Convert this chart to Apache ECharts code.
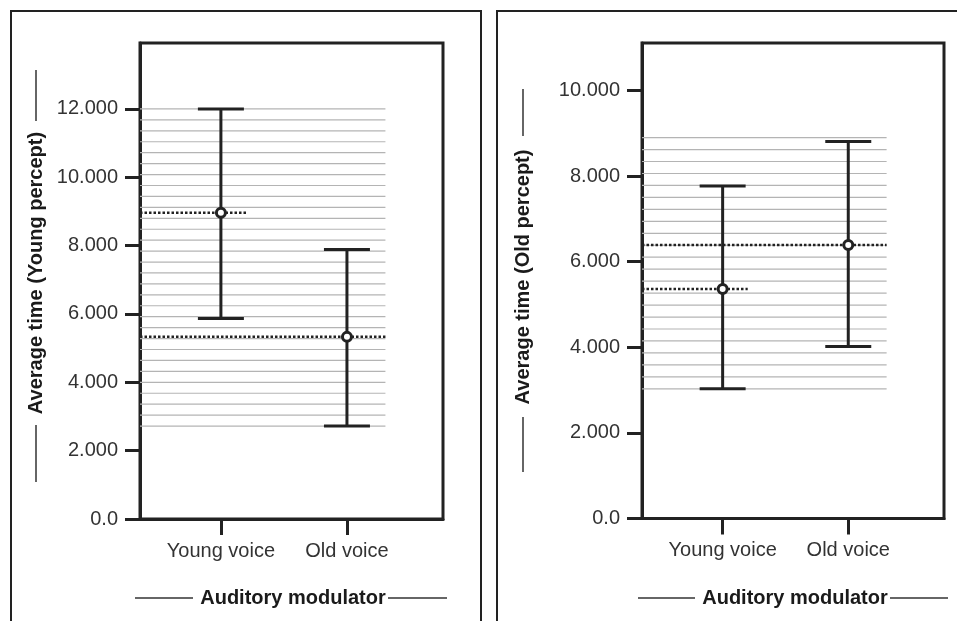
<!DOCTYPE html>
<html style="height: 100%">
<head>
 <meta charset="utf-8">
 <title>ECharts</title>
 <script src="https://cdn.jsdelivr.net/npm/echarts/dist/echarts.min.js"></script>
</head>
<body style="height: 100%; margin: 0; background: #fff">
 <div id="main" style="width: 957px; height: 621px"></div>
 <script type="text/javascript">
 // groups on the x axis and where they sit across the plot (0..1)
 var categories = ['Young voice', 'Old voice'];
 var catPos = [0.267, 0.683];

 // left panel - Average time (Young percept)
 var youngMean = [8.96, 5.33];
 var youngLower = [5.87, 2.72];
 var youngUpper = [12.0, 7.89];
 var youngBand = [2.72, 12.0];   // hatched range
 var yTicksLeft = [0, 2, 4, 6, 8, 10, 12];

 // right panel - Average time (Old percept)
 var oldMean = [5.36, 6.39];
 var oldLower = [3.03, 4.02];
 var oldUpper = [7.77, 8.81];
 var oldBand = [3.03, 8.90];
 var yTicksRight = [0, 2, 4, 6, 8, 10];

 var FONT = 'Liberation Sans';
 var INK = '#222';

 var myChart = echarts.init(document.getElementById('main'));

 function fmtY(v) {
   return v === 0 ? '0.0' : v.toFixed(3);
 }

 function errorBarItem(params, api) {
   var x = api.value(0);
   var pLo = api.coord([x, api.value(1)]);
   var pM = api.coord([x, api.value(2)]);
   var pHi = api.coord([x, api.value(3)]);
   var hw = 23;
   var st = { stroke: INK, lineWidth: 3 };
   return {
     type: 'group',
     children: [
       { type: 'line', shape: { x1: pLo[0], y1: pLo[1], x2: pHi[0], y2: pHi[1] }, style: st },
       { type: 'line', shape: { x1: pLo[0] - hw, y1: pLo[1], x2: pLo[0] + hw, y2: pLo[1] }, style: st },
       { type: 'line', shape: { x1: pHi[0] - hw, y1: pHi[1], x2: pHi[0] + hw, y2: pHi[1] }, style: st },
       { type: 'circle', shape: { cx: pM[0], cy: pM[1], r: 4.5 }, style: { fill: '#fff', stroke: INK, lineWidth: 3 } }
     ]
   };
 }

 // dotted line from the axis to just past the group's bar
 function meanLineItem(params, api) {
   var a = api.coord([0, api.value(1)]);
   var b = api.coord([api.value(2), api.value(1)]);
   return {
     type: 'line',
     shape: { x1: a[0], y1: a[1], x2: b[0], y2: b[1] },
     style: { stroke: '#222', lineWidth: 2.5, lineDash: [2.5, 2] }
   };
 }

 // horizontal hatching over the band
 function hatchItem(params, api) {
   var steps = api.value(4);
   var top = api.coord([api.value(0), api.value(3)]);
   var bot = api.coord([api.value(1), api.value(2)]);
   var kids = [];
   for (var i = 0; i <= steps; i++) {
     var y = top[1] + (bot[1] - top[1]) * i / steps;
     kids.push({ type: 'line', shape: { x1: top[0], y1: y, x2: bot[0], y2: y }, style: { stroke: '#b4b4b4', lineWidth: 1.2 } });
   }
   return { type: 'group', children: kids };
 }

 function bars(mean, lo, hi) {
   return categories.map(function (c, i) { return [catPos[i], lo[i], mean[i], hi[i]]; });
 }

 var meanEnd = [0.35, 0.81];

 function means(mean) {
   return categories.map(function (c, i) { return [catPos[i], mean[i], meanEnd[i]]; });
 }

 function yAxisFor(idx, max, ticks) {
   return {
     type: 'value', gridIndex: idx, min: 0, max: max,
     axisLine: { show: true, lineStyle: { color: INK, width: 3 } },
     axisTick: { show: true, length: 15, customValues: ticks, lineStyle: { color: INK, width: 3 } },
     axisLabel: { customValues: ticks, formatter: fmtY, fontSize: 20, color: '#333', fontFamily: FONT, margin: 22 },
     splitLine: { show: false }
   };
 }

 function xAxisFor(idx) {
   return {
     type: 'value', gridIndex: idx, min: 0, max: 1,
     axisLine: { show: true, lineStyle: { color: INK, width: 3 } },
     axisTick: { show: true, length: 16, customValues: catPos, lineStyle: { color: INK, width: 3 } },
     axisLabel: {
       customValues: catPos, fontSize: 20, color: '#333', fontFamily: FONT, margin: 22,
       formatter: function (v) { return categories[catPos.indexOf(v)]; }
     },
     splitLine: { show: false }
   };
 }

 function vTitle(cx, cy, text, l1, l2) {
   return [
     { type: 'text', x: cx, y: cy, rotation: Math.PI / 2,
       style: { text: text, font: 'bold 20px ' + FONT, fill: '#1a1a1a', align: 'center', verticalAlign: 'middle' } },
     { type: 'line', shape: { x1: cx, y1: l1[0], x2: cx, y2: l1[1] }, style: { stroke: '#333', lineWidth: 1.5 } },
     { type: 'line', shape: { x1: cx, y1: l2[0], x2: cx, y2: l2[1] }, style: { stroke: '#333', lineWidth: 1.5 } }
   ];
 }

 function hTitle(cx, cy, text, l1, l2) {
   return [
     { type: 'text', x: cx, y: cy,
       style: { text: text, font: 'bold 20px ' + FONT, fill: '#1a1a1a', align: 'center', verticalAlign: 'middle' } },
     { type: 'line', shape: { x1: l1[0], y1: cy, x2: l1[1], y2: cy }, style: { stroke: '#333', lineWidth: 1.5 } },
     { type: 'line', shape: { x1: l2[0], y1: cy, x2: l2[1], y2: cy }, style: { stroke: '#333', lineWidth: 1.5 } }
   ];
 }

 var option = {
   animation: false,
   backgroundColor: '#fff',
   grid: [
     { left: 140, top: 43, width: 303, height: 476, show: true, borderColor: INK, borderWidth: 3 },
     { left: 642, top: 43, width: 302, height: 475.5, show: true, borderColor: INK, borderWidth: 3 }
   ],
   xAxis: [xAxisFor(0), xAxisFor(1)],
   yAxis: [yAxisFor(0, 13.93, yTicksLeft), yAxisFor(1, 11.11, yTicksRight)],
   graphic: [].concat(
     [
       { type: 'rect', shape: { x: 11, y: 11, width: 470, height: 700 }, style: { fill: 'none', stroke: INK, lineWidth: 2 } },
       { type: 'rect', shape: { x: 497, y: 11, width: 600, height: 700 }, style: { fill: 'none', stroke: INK, lineWidth: 2 } }
     ],
     vTitle(36, 273, 'Average time (Young percept)', [70, 121], [425, 482]),
     vTitle(523, 277, 'Average time (Old percept)', [89, 136], [417, 472]),
     hTitle(293, 598, 'Auditory modulator', [135, 193], [388, 447]),
     hTitle(795, 598, 'Auditory modulator', [638, 695], [890, 948])
   ),
   series: [
     { type: 'custom', xAxisIndex: 0, yAxisIndex: 0, renderItem: hatchItem, data: [[0, 0.81, youngBand[0], youngBand[1], 29]] },
     { type: 'custom', xAxisIndex: 0, yAxisIndex: 0, renderItem: meanLineItem, data: means(youngMean) },
     { type: 'custom', xAxisIndex: 0, yAxisIndex: 0, renderItem: errorBarItem, data: bars(youngMean, youngLower, youngUpper) },
     { type: 'custom', xAxisIndex: 1, yAxisIndex: 1, renderItem: hatchItem, data: [[0, 0.81, oldBand[0], oldBand[1], 21]] },
     { type: 'custom', xAxisIndex: 1, yAxisIndex: 1, renderItem: meanLineItem, data: means(oldMean) },
     { type: 'custom', xAxisIndex: 1, yAxisIndex: 1, renderItem: errorBarItem, data: bars(oldMean, oldLower, oldUpper) }
   ]
 };

 myChart.setOption(option);
 </script>
</body>
</html>
